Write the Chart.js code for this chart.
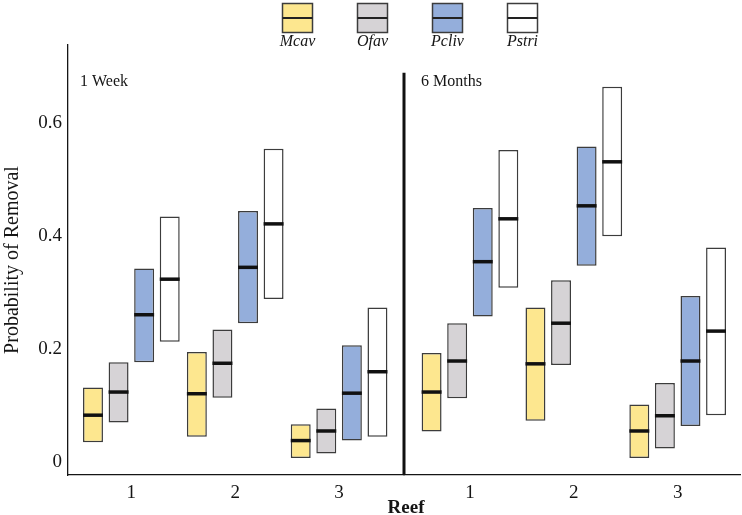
<!DOCTYPE html>
<html>
<head>
<meta charset="utf-8">
<script src="https://cdn.jsdelivr.net/npm/chart.js@4"></script>
<style>
  html, body { margin: 0; padding: 0; background: #ffffff; }
  #wrap { position: relative; width: 742px; height: 515px; }
  canvas { position: absolute; left: 0; top: 0; }
</style>
</head>
<body>
<div id="wrap">
  <canvas id="left" width="742" height="515"></canvas>
  <canvas id="right" width="742" height="515"></canvas>
</div>
<script>
// ---- data ----
const reefs = [1, 2, 3];
const reefLabels = ['1', '2', '3'];
const species = ['Mcav', 'Ofav', 'Pcliv', 'Pstri'];
const speciesColors = ['#fde78f', '#d6d3d6', '#94aedb', '#ffffff'];
const yTicks = [0, 0.2, 0.4, 0.6];
const panelTitles = ['1 Week', '6 Months'];

// [lower, median, upper] per reef
const week_Mcav  = [[0.035, 0.083, 0.132], [0.045, 0.121, 0.195], [0.007, 0.038, 0.067]];
const week_Ofav  = [[0.070, 0.124, 0.177], [0.114, 0.175, 0.235], [0.015, 0.055, 0.095]];
const week_Pcliv = [[0.177, 0.261, 0.343], [0.246, 0.345, 0.445], [0.038, 0.122, 0.207]];
const week_Pstri = [[0.213, 0.324, 0.435], [0.289, 0.422, 0.555], [0.045, 0.160, 0.274]];

const month_Mcav  = [[0.054, 0.124, 0.193], [0.073, 0.174, 0.274], [0.007, 0.055, 0.102]];
const month_Ofav  = [[0.113, 0.179, 0.246], [0.172, 0.246, 0.322], [0.024, 0.082, 0.140]];
const month_Pcliv = [[0.258, 0.355, 0.450], [0.348, 0.454, 0.559], [0.064, 0.179, 0.294]];
const month_Pstri = [[0.309, 0.431, 0.553], [0.400, 0.532, 0.665], [0.083, 0.232, 0.380]];

const weekSeries = [week_Mcav, week_Ofav, week_Pcliv, week_Pstri];
const monthSeries = [month_Mcav, month_Ofav, month_Pcliv, month_Pstri];

const FONT = "'Liberation Serif', 'Times New Roman', serif";
const INK = '#151515';

function makeDatasets(series) {
  return series.map((rows, si) => ({
    label: species[si],
    data: rows.map((r, i) => ({ x: reefs[i], y: [r[0], r[2]] })),
    medians: rows.map(r => r[1]),
    backgroundColor: speciesColors[si],
    borderColor: '#3c3c3c',
    borderWidth: 1.5,
    borderSkipped: false,
    categoryPercentage: 0.985,
    barPercentage: 0.78
  }));
}

const medianPlugin = {
  id: 'medians',
  afterDatasetsDraw(chart) {
    const ctx = chart.ctx;
    const y = chart.scales.y;
    chart.data.datasets.forEach((ds, di) => {
      const meta = chart.getDatasetMeta(di);
      meta.data.forEach((bar, i) => {
        const py = y.getPixelForValue(ds.medians[i]);
        ctx.save();
        ctx.strokeStyle = '#111111';
        ctx.lineWidth = 3.5;
        ctx.beginPath();
        ctx.moveTo(bar.x - bar.width / 2, py);
        ctx.lineTo(bar.x + bar.width / 2, py);
        ctx.stroke();
        ctx.restore();
      });
    });
  }
};

const panelTitlePlugin = {
  id: 'panelTitle',
  afterDraw(chart, args, opts) {
    const ctx = chart.ctx;
    ctx.save();
    ctx.fillStyle = INK;
    ctx.font = '16px ' + FONT;
    ctx.textBaseline = 'middle';
    ctx.textAlign = 'left';
    ctx.fillText(opts.text, chart.chartArea.left + opts.dx, chart.chartArea.top + 37);
    ctx.restore();
  }
};

const legendPlugin = {
  id: 'customLegend',
  afterDraw(chart, args, opts) {
    if (!opts.show) return;
    const ctx = chart.ctx;
    const center = 410, step = 75, bw = 30, bh = 29, top = 3.5;
    ctx.save();
    species.forEach((name, i) => {
      const cx = center + (i - 1.5) * step;
      ctx.fillStyle = speciesColors[i];
      ctx.fillRect(cx - bw / 2, top, bw, bh);
      ctx.strokeStyle = '#3c3c3c';
      ctx.lineWidth = 1.5;
      ctx.strokeRect(cx - bw / 2, top, bw, bh);
      ctx.strokeStyle = '#222';
      ctx.lineWidth = 2;
      ctx.beginPath();
      ctx.moveTo(cx - bw / 2, top + bh / 2);
      ctx.lineTo(cx + bw / 2, top + bh / 2);
      ctx.stroke();
      ctx.fillStyle = INK;
      ctx.font = 'italic 16px ' + FONT;
      ctx.textAlign = 'center';
      ctx.textBaseline = 'middle';
      ctx.fillText(name, cx, 42);
    });
    // x axis title
    ctx.font = 'bold 19px ' + FONT;
    ctx.textAlign = 'center';
    ctx.textBaseline = 'middle';
    ctx.fillText('Reef', 406, 508);
    ctx.restore();
  }
};

const dividerPlugin = {
  id: 'divider',
  afterDraw(chart, args, opts) {
    if (!opts.show) return;
    const ctx = chart.ctx;
    const y = chart.scales.y;
    ctx.save();
    ctx.strokeStyle = '#111111';
    ctx.lineWidth = 3;
    ctx.beginPath();
    ctx.moveTo(chart.chartArea.left, chart.chartArea.bottom);
    ctx.lineTo(chart.chartArea.left, y.getPixelForValue(0.69));
    ctx.stroke();
    ctx.restore();
  }
};

function makeChart(id, series, title, opts) {
  return new Chart(document.getElementById(id), {
    type: 'bar',
    data: { datasets: makeDatasets(series) },
    plugins: [medianPlugin, panelTitlePlugin, legendPlugin, dividerPlugin],
    options: {
      responsive: false,
      animation: false,
      layout: { padding: opts.padding },
      plugins: {
        legend: { display: false },
        tooltip: { enabled: false },
        panelTitle: { text: title, dx: opts.titleDx },
        customLegend: { show: opts.legend },
        divider: { show: opts.divider }
      },
      scales: {
        x: {
          type: 'linear',
          offset: false,
          min: opts.xmin,
          max: opts.xmax,
          afterBuildTicks: s => { s.ticks = reefs.map(v => ({ value: v })); },
          afterFit: s => { s.height = 40; },
          grid: { display: false, drawTicks: false, offset: false },
          border: { display: true, color: INK, width: 1.3 },
          ticks: {
            padding: 7,
            color: INK,
            font: { family: FONT, size: 19 },
            callback: v => reefLabels[reefs.indexOf(v)] ?? ''
          }
        },
        y: {
          display: opts.showY,
          min: -0.023,
          max: 0.739,
          afterBuildTicks: s => { s.ticks = yTicks.map(v => ({ value: v })); },
          afterFit: s => { s.width = opts.showY ? 68 : 0; },
          grid: { display: false, drawTicks: false },
          border: { display: true, color: INK, width: 1.3 },
          ticks: {
            padding: 6,
            color: INK,
            font: { family: FONT, size: 19 },
            callback: v => String(v)
          },
          title: {
            display: true,
            text: 'Probability of Removal',
            color: INK,
            font: { family: FONT, size: 20 },
            padding: { top: 1, bottom: 0 }
          }
        }
      }
    }
  });
}

makeChart('left', weekSeries, panelTitles[0], {
  padding: { top: 45, right: 338, bottom: 0, left: 0 },
  xmin: 0.39, xmax: 3.625, showY: true, legend: true, divider: false, titleDx: 12
});
makeChart('right', monthSeries, panelTitles[1], {
  padding: { top: 45, right: 2, bottom: 0, left: 404 },
  xmin: 0.365, xmax: 3.6, showY: false, legend: false, divider: true, titleDx: 17
});
</script>
</body>
</html>
